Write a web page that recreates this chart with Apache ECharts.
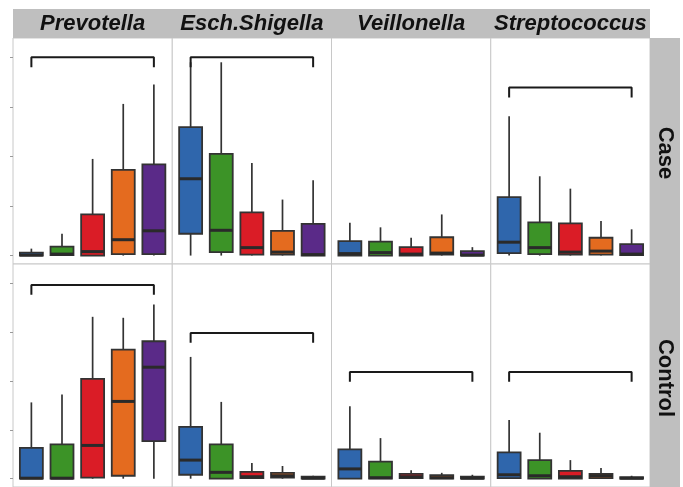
<!DOCTYPE html>
<html>
<head>
<meta charset="utf-8">
<script src="https://cdn.jsdelivr.net/npm/echarts@6/dist/echarts.min.js"></script>
<style>
  html, body { margin: 0; padding: 0; background: #fff; }
  #chart { width: 683px; height: 487px; }
</style>
</head>
<body>
<div id="chart"></div>
<script>
// facets
const genera = ['Prevotella', 'Esch.Shigella', 'Veillonella', 'Streptococcus'];
const groups = ['Case', 'Control'];
const stages = [1, 2, 3, 4, 5];

// each box: [min, q1, median, q3, max]
const prevotellaCase = [[0, 0, 0.01, 0.06, 0.14], [0, 0.01, 0.03, 0.18, 0.44], [0, 0, 0.08, 0.83, 1.95], [0, 0.03, 0.32, 1.73, 3.06], [0, 0.03, 0.50, 1.84, 3.45]];
const eschCase = [[0, 0.44, 1.55, 2.59, 3.9], [0, 0.07, 0.51, 2.05, 3.9], [0, 0.02, 0.16, 0.87, 1.87], [0, 0.02, 0.07, 0.50, 1.13], [0, 0, 0.02, 0.64, 1.52]];
const veillonellaCase = [[0, 0, 0.04, 0.29, 0.66], [0, 0, 0.06, 0.28, 0.57], [0, 0, 0.03, 0.17, 0.36], [0, 0.02, 0.05, 0.37, 0.83], [0, 0, 0.01, 0.09, 0.17]];
const streptoCase = [[0, 0.05, 0.27, 1.18, 2.81], [0, 0.03, 0.16, 0.67, 1.6], [0, 0.02, 0.07, 0.65, 1.35], [0, 0.02, 0.09, 0.36, 0.70], [0, 0.01, 0.03, 0.23, 0.53]];

const prevotellaControl = [[0, 0, 0.01, 0.63, 1.56], [0, 0, 0.01, 0.70, 1.72], [0, 0.02, 0.68, 2.04, 3.31], [0, 0.06, 1.58, 2.64, 3.29], [0, 0.77, 2.28, 2.81, 3.56]];
const eschControl = [[0, 0.08, 0.38, 1.06, 2.49], [0, 0, 0.13, 0.70, 1.57], [0, 0.01, 0.04, 0.14, 0.32], [0, 0.02, 0.06, 0.12, 0.26], [0, 0, 0.01, 0.04, 0.06]];
const veillonellaControl = [[0, 0, 0.20, 0.60, 1.48], [0, 0, 0.02, 0.35, 0.83], [0, 0.01, 0.04, 0.10, 0.17], [0, 0, 0.02, 0.07, 0.12], [0, 0, 0.01, 0.04, 0.08]];
const streptoControl = [[0, 0.01, 0.08, 0.54, 1.2], [0, 0, 0.06, 0.38, 0.94], [0, 0, 0.04, 0.16, 0.38], [0, 0.01, 0.06, 0.10, 0.22], [0, 0, 0.01, 0.03, 0.06]];

// significance bracket heights (null = none)
const bracketCase = [4.0, 4.0, null, 3.39];
const bracketControl = [3.96, 2.98, 2.18, 2.18];

const yTicks = [0, 1, 2, 3, 4];

const panels = [
  [prevotellaCase, eschCase, veillonellaCase, streptoCase],
  [prevotellaControl, eschControl, veillonellaControl, streptoControl]
];
const brackets = [bracketCase, bracketControl];
const colors = ['#2F66AC', '#3C9327', '#DA1C26', '#E46B1F', '#5A2A88'];

const chart = echarts.init(document.getElementById('chart'), null, {renderer: 'canvas'});

const colLeft = 13, colW = 159.25;
const rowTop = [38, 264], rowH = [226, 224];
const grids = [], xAxes = [], yAxes = [], series = [];

function renderBox(params, api) {
  const x = api.value(0);
  const lo = api.coord([x, api.value(1)]);
  const q1 = api.coord([x, api.value(2)]);
  const med = api.coord([x, api.value(3)]);
  const q3 = api.coord([x, api.value(4)]);
  const hi = api.coord([x, api.value(5)]);
  const w = api.size([0.75, 0])[0];
  const cx = lo[0];
  return {
    type: 'group',
    children: [
      {type: 'line', shape: {x1: cx, y1: lo[1], x2: cx, y2: hi[1]}, style: {stroke: '#333', lineWidth: 1.7}},
      {type: 'rect', shape: {x: cx - w / 2, y: q3[1], width: w, height: q1[1] - q3[1]},
        style: {fill: colors[x - 1], stroke: '#333', lineWidth: 1.8}},
      {type: 'line', shape: {x1: cx - w / 2, y1: med[1], x2: cx + w / 2, y2: med[1]}, style: {stroke: '#2a2a2a', lineWidth: 3}}
    ]
  };
}

groups.forEach((g, r) => {
  genera.forEach((name, c) => {
    const idx = grids.length;
    grids.push({
      left: colLeft + c * colW, top: rowTop[r], width: colW, height: rowH[r],
      show: true, borderColor: '#c8c8c8', borderWidth: 1, backgroundColor: '#fff'
    });
    xAxes.push({gridIndex: idx, type: 'value', min: 0.4, max: 5.6, show: false});
    yAxes.push({
      gridIndex: idx, type: 'value', min: -0.17, max: 4.39, show: c === 0,
      axisLine: {show: false}, axisLabel: {show: false}, splitLine: {show: false},
      axisTick: {show: true, length: 3, lineStyle: {color: '#999'}, customValues: yTicks}
    });
    series.push({
      type: 'custom', xAxisIndex: idx, yAxisIndex: idx, renderItem: renderBox,
      encode: {x: 0, y: [1, 2, 3, 4, 5]},
      data: panels[r][c].map((b, i) => [stages[i]].concat(b)),
      silent: true, animation: false
    });
    const t = brackets[r][c];
    if (t != null) {
      series.push({
        type: 'line', xAxisIndex: idx, yAxisIndex: idx, symbol: 'none', silent: true, animation: false,
        lineStyle: {color: '#1a1a1a', width: 2},
        data: [[stages[0], t - 0.2], [stages[0], t], [stages[4], t], [stages[4], t - 0.2]]
      });
    }
  });
});

const strips = [
  {type: 'rect', shape: {x: colLeft, y: 9, width: colW * 4, height: 29}, style: {fill: '#bfbfbf'}, z: 0},
  {type: 'rect', shape: {x: colLeft + colW * 4, y: 38, width: 30, height: 460}, style: {fill: '#bfbfbf'}, z: 0}
];
genera.forEach((name, c) => {
  strips.push({
    type: 'text', x: colLeft + colW * (c + 0.5), y: 24,
    style: {text: name, fill: '#111', font: 'italic bold 22px "Liberation Sans", Arial, sans-serif',
      align: 'center', verticalAlign: 'middle'}
  });
});
groups.forEach((g, r) => {
  strips.push({
    type: 'text', x: colLeft + colW * 4 + 15, y: rowTop[r] + rowH[r] / 2 + 2, rotation: -Math.PI / 2,
    style: {text: g, fill: '#111', font: 'bold 22px "Liberation Sans", Arial, sans-serif',
      align: 'center', verticalAlign: 'middle'}
  });
});

chart.setOption({
  animation: false,
  backgroundColor: '#fff',
  grid: grids,
  xAxis: xAxes,
  yAxis: yAxes,
  series: series,
  graphic: strips
});
</script>
</body>
</html>
